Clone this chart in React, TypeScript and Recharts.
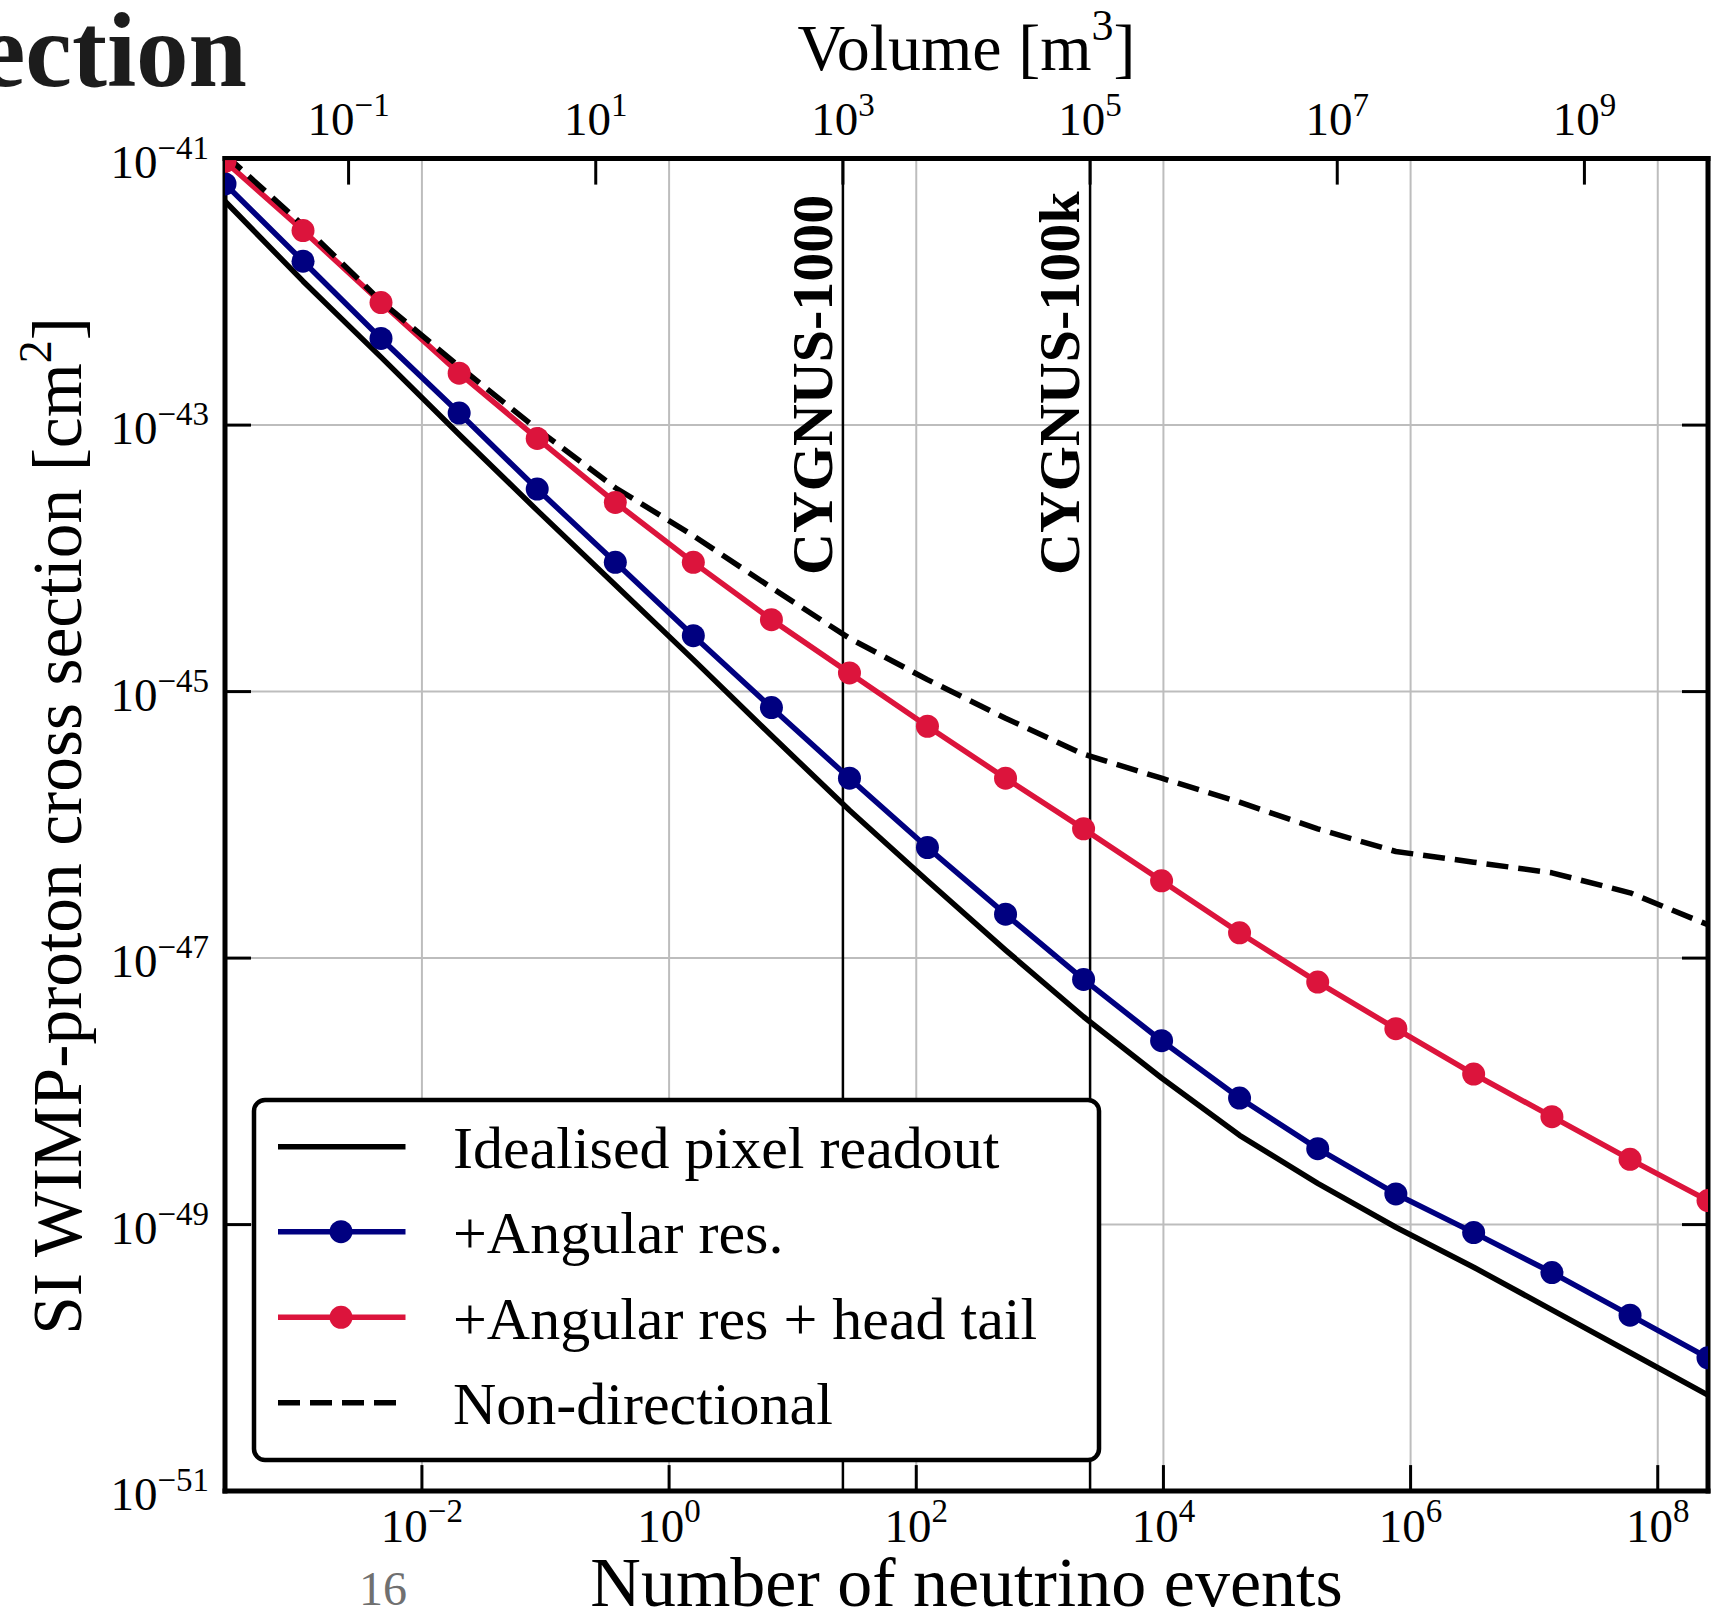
import { CartesianGrid, Legend, Line, LineChart, ReferenceLine, XAxis, YAxis } from "recharts";

const VOLUME = [
  1.0e-2, 4.28e-2, 0.183, 0.785, 3.36, 14.4, 61.6, 264, 1130, 4830, 2.07e4, 8.86e4, 3.79e5, 1.62e6,
  6.95e6, 2.98e7, 1.27e8, 5.46e8, 2.34e9, 1.0e10,
];

// neutrino events per m^3 (offset between bottom and top axes)
const EVENTS_PER_M3 = 0.0255;

// log10 of the cross section [cm^2], one value per volume point
const IDEAL_LOG = [
  -41.32, -41.92, -42.49, -43.07, -43.64, -44.2, -44.76, -45.33, -45.89, -46.42, -46.94, -47.44,
  -47.9, -48.33, -48.69, -49.02, -49.32, -49.64, -49.96, -50.28,
];
const ANGULAR_LOG = [
  -41.19, -41.77, -42.35, -42.91, -43.48, -44.03, -44.58, -45.12, -45.65, -46.17, -46.67, -47.16,
  -47.62, -48.05, -48.43, -48.77, -49.06, -49.36, -49.68, -50.0,
];
const HEAD_TAIL_LOG = [
  -41.02, -41.54, -42.08, -42.61, -43.1, -43.58, -44.03, -44.46, -44.86, -45.26, -45.65, -46.03,
  -46.42, -46.81, -47.18, -47.53, -47.87, -48.19, -48.51, -48.82,
];
const NON_DIR_LOG = [
  -40.97, -41.5, -42.07, -42.56, -43.03, -43.47, -43.83, -44.22, -44.6, -44.91, -45.2, -45.47,
  -45.65, -45.83, -46.03, -46.2, -46.28, -46.36, -46.51, -46.75,
];

const EVENT_TICKS = [1e-2, 1, 1e2, 1e4, 1e6, 1e8];
const VOLUME_TICKS = [1e-1, 1e1, 1e3, 1e5, 1e7, 1e9];
const SIGMA_TICKS = [1e-51, 1e-49, 1e-47, 1e-45, 1e-43, 1e-41];

const DETECTORS = [
  { volume: 1e3, label: "CYGNUS-1000" },
  { volume: 1e5, label: "CYGNUS-100k" },
];

const SERIES = [
  { key: "ideal", name: "Idealised pixel readout", color: "#000000", dots: false, dash: undefined },
  { key: "angular", name: "+Angular res.", color: "#000080", dots: true, dash: undefined },
  { key: "headTail", name: "+Angular res + head tail", color: "#dc143c", dots: true, dash: undefined },
  { key: "nonDir", name: "Non-directional", color: "#000000", dots: false, dash: "22 10" },
];

const W = 1712;
const H = 1613;
const PLOT = { left: 225, right: 1708, top: 158.6, bottom: 1491.1 };
const Y_AXIS_W = 200;
const RIGHT_AXIS_W = 2;
const X_AXIS_H = 100;
const TICK_LEN = 26;
const DOT_R = 11.5;
const FONT = "'Liberation Serif', 'Times New Roman', serif";
const FRAME = { stroke: "#000", strokeWidth: 5, strokeLinecap: "square" as const };

function expText(value: number) {
  const e = Math.round(Math.log10(value));
  return e < 0 ? `\u2212${-e}` : `${e}`;
}

function LeftTick(props: any) {
  const { y, payload } = props;
  return (
    <g>
      <line x1={PLOT.left} x2={PLOT.left + TICK_LEN} y1={y} y2={y} stroke="#000" strokeWidth={3} />
      <text x={PLOT.left - 16} y={y + 19} textAnchor="end" fontFamily={FONT} fontSize={47} fill="#000">
        10
        <tspan dy={-19} fontSize={33}>
          {expText(payload.value)}
        </tspan>
      </text>
    </g>
  );
}

function RightTick(props: any) {
  const { y } = props;
  return <line x1={PLOT.right} x2={PLOT.right - TICK_LEN} y1={y} y2={y} stroke="#000" strokeWidth={3} />;
}

function BottomTick(props: any) {
  const { x, payload } = props;
  return (
    <g>
      <line x1={x} x2={x} y1={PLOT.bottom} y2={PLOT.bottom - TICK_LEN} stroke="#000" strokeWidth={3} />
      <text x={x} y={PLOT.bottom + 50.6} textAnchor="middle" fontFamily={FONT} fontSize={47} fill="#000">
        10
        <tspan dy={-20} fontSize={33}>
          {expText(payload.value)}
        </tspan>
      </text>
    </g>
  );
}

function TopTick(props: any) {
  const { x, payload } = props;
  return (
    <g>
      <line x1={x} x2={x} y1={PLOT.top} y2={PLOT.top + TICK_LEN} stroke="#000" strokeWidth={3} />
      <text x={x} y={PLOT.top - 23.6} textAnchor="middle" fontFamily={FONT} fontSize={47} fill="#000">
        10
        <tspan dy={-19} fontSize={33}>
          {expText(payload.value)}
        </tspan>
      </text>
    </g>
  );
}

const plotMidX = (PLOT.left + PLOT.right) / 2;

const bottomTitle = () => (
  <text x={plotMidX} y={1606} textAnchor="middle" fontFamily={FONT} fontSize={70} fill="#000">
    Number of neutrino events
  </text>
);

const topTitle = () => (
  <text x={plotMidX} y={70} textAnchor="middle" fontFamily={FONT} fontSize={66} fill="#000">
    Volume [m
    <tspan dy={-30} fontSize={44}>
      3
    </tspan>
    <tspan dy={30}>]</tspan>
  </text>
);

const leftTitle = () => (
  <text
    x={81}
    y={826}
    transform="rotate(-90 81 826)"
    textAnchor="middle"
    fontFamily={FONT}
    fontSize={69.5}
    fill="#000"
  >
    SI WIMP-proton cross section [cm
    <tspan dy={-30} fontSize={46}>
      2
    </tspan>
    <tspan dy={30}>]</tspan>
  </text>
);

function detectorLabel(text: string) {
  return (props: any) => {
    const x = (props.viewBox?.x ?? 0) - 11;
    const y = 575;
    return (
      <text
        x={x}
        y={y}
        transform={`rotate(-90 ${x} ${y})`}
        textAnchor="start"
        fontFamily={FONT}
        fontWeight="bold"
        fontSize={58}
        fill="#000"
      >
        {text}
      </text>
    );
  };
}

function LegendBox() {
  const rowY = [50.7, 135.7, 221.3, 306.7];
  return (
    <svg width={854} height={368} style={{ display: "block" }}>
      <rect x={4} y={4} width={845} height={360} rx={11} fill="#fff" stroke="#000" strokeWidth={4.5} />
      {SERIES.map((s, i) => (
        <g key={s.key}>
          <line
            x1={28}
            x2={155.5}
            y1={rowY[i]}
            y2={rowY[i]}
            stroke={s.color}
            strokeWidth={5.5}
            strokeDasharray={s.dash}
          />
          {s.dots && <circle cx={91} cy={rowY[i]} r={DOT_R} fill={s.color} />}
          <text x={203} y={rowY[i] + 21.6} fontFamily={FONT} fontSize={60} fill="#000">
            {s.name}
          </text>
        </g>
      ))}
    </svg>
  );
}

export default function App() {
  const rows = VOLUME.map((v, i) => ({
    volume: v,
    events: v * EVENTS_PER_M3,
    ideal: 10 ** IDEAL_LOG[i],
    angular: 10 ** ANGULAR_LOG[i],
    headTail: 10 ** HEAD_TAIL_LOG[i],
    nonDir: 10 ** NON_DIR_LOG[i],
  }));
  const eventsDomain = [VOLUME[0] * EVENTS_PER_M3, VOLUME[VOLUME.length - 1] * EVENTS_PER_M3];

  return (
    <div style={{ position: "relative", width: W, height: H, background: "#fff" }}>
      <style>{"body { margin: 0; }"}</style>
      <LineChart
        width={W}
        height={H}
        data={rows}
        margin={{
          top: PLOT.top - X_AXIS_H,
          right: W - PLOT.right - RIGHT_AXIS_W,
          bottom: H - PLOT.bottom - X_AXIS_H,
          left: PLOT.left - Y_AXIS_W,
        }}
      >
        <CartesianGrid xAxisId="events" yAxisId="left" stroke="#bdbdbd" strokeWidth={2} />
        <XAxis
          xAxisId="events"
          dataKey="events"
          type="number"
          scale="log"
          domain={eventsDomain}
          allowDataOverflow
          ticks={EVENT_TICKS}
          interval={0}
          orientation="bottom"
          height={X_AXIS_H}
          tickSize={0}
          tickMargin={0}
          tickLine={false}
          axisLine={FRAME}
          tick={BottomTick}
          label={bottomTitle}
        />
        <XAxis
          xAxisId="volume"
          dataKey="volume"
          type="number"
          scale="log"
          domain={[VOLUME[0], VOLUME[VOLUME.length - 1]]}
          allowDataOverflow
          ticks={VOLUME_TICKS}
          interval={0}
          orientation="top"
          height={X_AXIS_H}
          tickSize={0}
          tickMargin={0}
          tickLine={false}
          axisLine={FRAME}
          tick={TopTick}
          label={topTitle}
        />
        <YAxis
          yAxisId="left"
          type="number"
          scale="log"
          domain={[1e-51, 1e-41]}
          allowDataOverflow
          ticks={SIGMA_TICKS}
          interval={0}
          width={Y_AXIS_W}
          tickSize={0}
          tickMargin={0}
          tickLine={false}
          axisLine={FRAME}
          tick={LeftTick}
          label={leftTitle}
        />
        <YAxis
          yAxisId="right"
          orientation="right"
          type="number"
          scale="log"
          domain={[1e-51, 1e-41]}
          allowDataOverflow
          ticks={SIGMA_TICKS}
          interval={0}
          width={RIGHT_AXIS_W}
          tickSize={0}
          tickMargin={0}
          tickLine={false}
          axisLine={FRAME}
          tick={RightTick}
        />
        {DETECTORS.map((d) => (
          <ReferenceLine
            key={d.label}
            xAxisId="volume"
            yAxisId="left"
            x={d.volume}
            stroke="#000"
            strokeWidth={2.5}
            label={detectorLabel(d.label)}
          />
        ))}
        {/* invisible copy tied to the volume axis so that axis gets its data domain */}
        <Line
          xAxisId="volume"
          yAxisId="left"
          dataKey="ideal"
          stroke="none"
          dot={false}
          activeDot={false}
          legendType="none"
          isAnimationActive={false}
        />
        {SERIES.map((s) => (
          <Line
            key={s.key}
            xAxisId="events"
            yAxisId="left"
            dataKey={s.key}
            name={s.name}
            type="linear"
            stroke={s.color}
            strokeWidth={5.5}
            strokeDasharray={s.dash}
            strokeLinejoin="round"
            dot={s.dots ? { r: DOT_R, fill: s.color, stroke: "none" } : false}
            activeDot={false}
            isAnimationActive={false}
          />
        ))}
        <Legend
          layout="vertical"
          align="center"
          verticalAlign="middle"
          wrapperStyle={{ position: "absolute", left: 250, top: 1096, width: 854, height: 368, margin: 0, lineHeight: 0 }}
          content={() => <LegendBox />}
        />
      </LineChart>
      <svg width={W} height={H} style={{ position: "absolute", left: 0, top: 0, pointerEvents: "none" }}>
        <text x={247} y={86} textAnchor="end" fontFamily={FONT} fontWeight="bold" fontSize={105} fill="#1c1c1c">
          ection
        </text>
        <text x={359} y={1605} fontFamily={FONT} fontSize={48} fill="#707070">
          16
        </text>
      </svg>
    </div>
  );
}
